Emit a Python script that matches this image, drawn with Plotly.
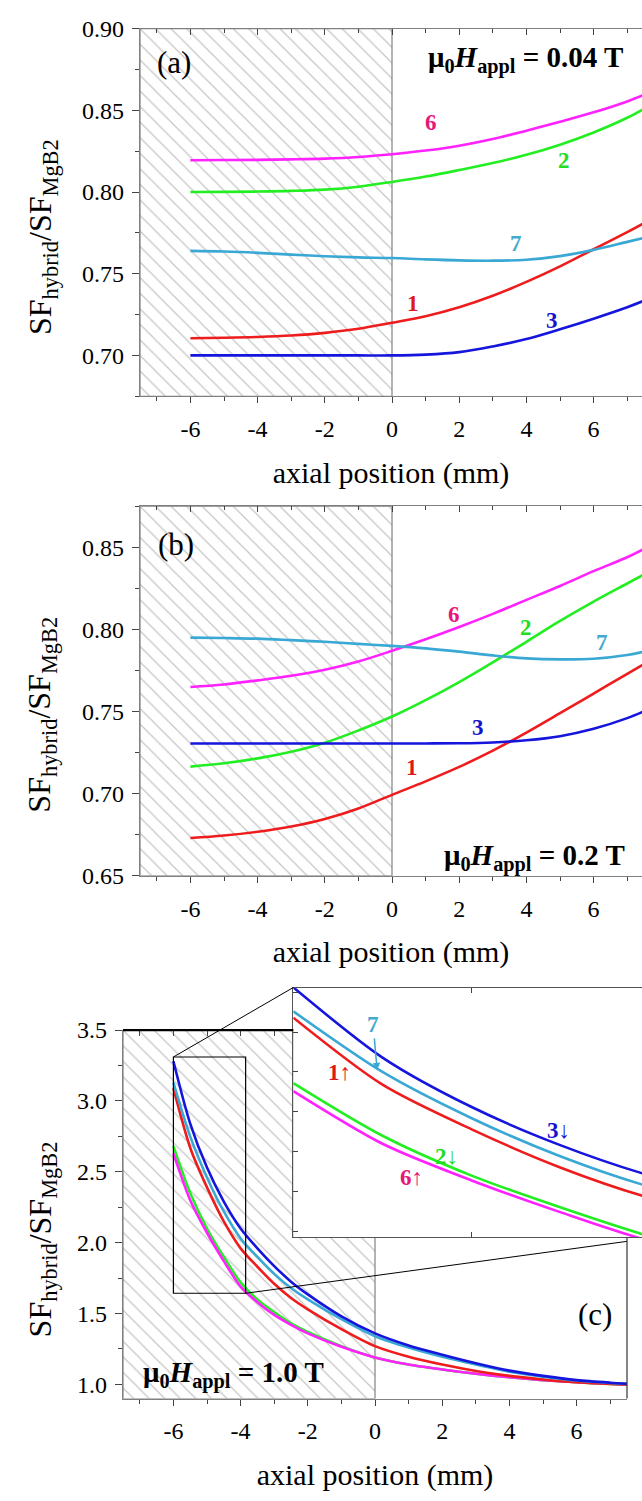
import plotly.graph_objects as go

W, H = 642, 1501
FONT = "Liberation Serif"
GRAY = "#808080"

# ---------------- data ----------------
X_AB = [-6, -5, -4, -3, -2, -1, 0, 1, 2, 3, 4, 5, 6, 7, 7.5]

A_1 = [0.7105, 0.7108, 0.7113, 0.7122, 0.7138, 0.7163, 0.7200, 0.7240, 0.7295, 0.7365, 0.7450, 0.7545, 0.7650, 0.7755, 0.7810]
A_2 = [0.8000, 0.8001, 0.8003, 0.8007, 0.8015, 0.8033, 0.8062, 0.8095, 0.8135, 0.8178, 0.8228, 0.8290, 0.8365, 0.8455, 0.8510]
A_3 = [0.7000, 0.7000, 0.7000, 0.7000, 0.7000, 0.7000, 0.7000, 0.7005, 0.7020, 0.7055, 0.7100, 0.7160, 0.7225, 0.7295, 0.7335]
A_6 = [0.8195, 0.8196, 0.8197, 0.8200, 0.8205, 0.8215, 0.8232, 0.8254, 0.8284, 0.8325, 0.8376, 0.8430, 0.8488, 0.8555, 0.8595]
A_7 = [0.7640, 0.7636, 0.7628, 0.7617, 0.7607, 0.7600, 0.7596, 0.7588, 0.7582, 0.7580, 0.7586, 0.7608, 0.7646, 0.7695, 0.7720]

B_1 = [0.6730, 0.6745, 0.6768, 0.6800, 0.6846, 0.6910, 0.6993, 0.7075, 0.7163, 0.7262, 0.7372, 0.7490, 0.7610, 0.7730, 0.7790]
B_2 = [0.7165, 0.7185, 0.7215, 0.7255, 0.7310, 0.7385, 0.7470, 0.7570, 0.7680, 0.7800, 0.7925, 0.8052, 0.8170, 0.8280, 0.8335]
B_3 = [0.7306, 0.7306, 0.7306, 0.7306, 0.7306, 0.7306, 0.7306, 0.7306, 0.7307, 0.7312, 0.7325, 0.7350, 0.7395, 0.7460, 0.7502]
B_6 = [0.7650, 0.7665, 0.7690, 0.7718, 0.7755, 0.7805, 0.7870, 0.7940, 0.8015, 0.8095, 0.8180, 0.8265, 0.8355, 0.8440, 0.8490]
B_7 = [0.7950, 0.7948, 0.7944, 0.7935, 0.7925, 0.7912, 0.7900, 0.7885, 0.7865, 0.7842, 0.7824, 0.7818, 0.7822, 0.7845, 0.7865]

X_C = [-6, -5.5, -5, -4.5, -4, -3.5, -3, -2.5, -2, -1, 0, 1, 2, 3, 4, 5, 6, 7, 7.5]
C_1 = [3.09, 2.67, 2.39, 2.15, 1.96, 1.83, 1.71, 1.61, 1.53, 1.39, 1.27, 1.195, 1.14, 1.095, 1.06, 1.035, 1.015, 1.003, 1.000]
C_2 = [2.68, 2.35, 2.10, 1.90, 1.72, 1.60, 1.51, 1.43, 1.37, 1.27, 1.19, 1.14, 1.105, 1.075, 1.05, 1.03, 1.015, 1.003, 0.998]
C_3 = [3.28, 2.84, 2.53, 2.29, 2.10, 1.96, 1.835, 1.725, 1.635, 1.48, 1.36, 1.275, 1.21, 1.15, 1.097, 1.06, 1.03, 1.012, 1.005]
C_6 = [2.63, 2.30, 2.07, 1.87, 1.69, 1.58, 1.49, 1.42, 1.36, 1.265, 1.19, 1.14, 1.105, 1.075, 1.05, 1.03, 1.015, 1.005, 1.000]
C_7 = [3.13, 2.75, 2.46, 2.22, 2.03, 1.90, 1.78, 1.68, 1.60, 1.46, 1.34, 1.26, 1.195, 1.14, 1.09, 1.055, 1.027, 1.010, 1.005]

SERIES = ["1", "2", "3", "6", "7"]
COLORS = {"1": "#ee1c1c", "2": "#22ee22", "3": "#1515dd", "6": "#ff22ff", "7": "#3aa8d4"}
LABEL_COLORS = {"1": "#e01818", "2": "#22dd22", "3": "#1515cc", "6": "#e8167a", "7": "#44aacc"}
DATA_A = {"1": A_1, "2": A_2, "3": A_3, "6": A_6, "7": A_7}
DATA_B = {"1": B_1, "2": B_2, "3": B_3, "6": B_6, "7": B_7}
DATA_C = {"1": C_1, "2": C_2, "3": C_3, "6": C_6, "7": C_7}

XTICKS = [-6, -4, -2, 0, 2, 4, 6]
XTICK_TEXT = ["-6", "-4", "-2", "0", "2", "4", "6"]
XMINOR = [-7, -5, -3, -1, 1, 3, 5, 7]
SHIELD_X = [-7.5, 0]          # shaded (shielded) region
ZOOM_X = [-6, -3.85]          # zoom window of panel (c)
ZOOM_Y = [1.643, 3.31]
Y_TITLE = "SF<sub>hybrid</sub>/SF<sub>MgB2</sub>"
X_TITLE = "axial position (mm)"

# ---------------- layout geometry ----------------
XR_AB = [-7.5, 7.44]
YR_A = [0.675, 0.90]
YR_B = [0.65, 0.875]
XR_C = [-7.5, 7.5]
YR_C = [0.9, 3.5]
XR_I = [-6, -4.045]
YR_I = [1.713, 3.279]

DOM_AB_X = [140 / W, 1.0]
DOM_A_Y = [1 - 390 / H, 1 - 16 / H]
DOM_B_Y = [1 - 878 / H, 1 - 502 / H]
DOM_C_X = [123 / W, 627 / W]
DOM_C_Y = [1 - 1410 / H, 1 - 1035 / H]
DOM_I_X = [293.3 / W, 1.0]
DOM_I_Y = [1 - 1246 / H, 1 - 991.7 / H]


def d2p(v, dom, rng):
    return dom[0] + (v - rng[0]) / (rng[1] - rng[0]) * (dom[1] - dom[0])


def p2d(p, dom, rng):
    return rng[0] + (p - dom[0]) / (dom[1] - dom[0]) * (rng[1] - rng[0])


fig = go.Figure()

PATTERN = dict(shape="\\", size=11, solidity=0.11, fgcolor="#8c8c8c", bgcolor="white")


def shade(xa, ya, xs, ys):
    fig.add_trace(go.Scatter(x=xs, y=ys, xaxis=xa, yaxis=ya, mode="lines", fill="toself",
                             fillpattern=PATTERN, fillcolor="white",
                             line=dict(color=GRAY, width=1.2), hoverinfo="skip", showlegend=False))


shade("x", "y", [SHIELD_X[0], SHIELD_X[1], SHIELD_X[1], SHIELD_X[0], SHIELD_X[0]],
      [YR_A[0], YR_A[0], YR_A[1], YR_A[1], YR_A[0]])
shade("x2", "y2", [SHIELD_X[0], SHIELD_X[1], SHIELD_X[1], SHIELD_X[0], SHIELD_X[0]],
      [YR_B[0], YR_B[0], YR_B[1], YR_B[1], YR_B[0]])
ins_left = p2d(DOM_I_X[0], DOM_C_X, XR_C)
ins_bot = p2d(DOM_I_Y[0], DOM_C_Y, YR_C)
shade("x3", "y3",
      [SHIELD_X[0], SHIELD_X[1], SHIELD_X[1], ins_left, ins_left, SHIELD_X[0], SHIELD_X[0]],
      [YR_C[0], YR_C[0], ins_bot, ins_bot, YR_C[1], YR_C[1], YR_C[0]])

LW = 2.6
for s in SERIES:
    fig.add_trace(go.Scatter(x=X_AB, y=DATA_A[s], xaxis="x", yaxis="y", mode="lines",
                             line=dict(color=COLORS[s], width=LW, shape="spline", smoothing=1.0),
                             showlegend=False, name=s))
for s in SERIES:
    fig.add_trace(go.Scatter(x=X_AB, y=DATA_B[s], xaxis="x2", yaxis="y2", mode="lines",
                             line=dict(color=COLORS[s], width=LW, shape="spline", smoothing=1.0),
                             showlegend=False, name=s))
for s in ["2", "6", "1", "7", "3"]:
    fig.add_trace(go.Scatter(x=X_C, y=DATA_C[s], xaxis="x3", yaxis="y3", mode="lines",
                             line=dict(color=COLORS[s], width=LW, shape="spline", smoothing=0.8),
                             showlegend=False, name=s))
for s in ["2", "6", "1", "7", "3"]:
    fig.add_trace(go.Scatter(x=X_C, y=DATA_C[s], xaxis="x4", yaxis="y4", mode="lines",
                             line=dict(color=COLORS[s], width=LW, shape="spline", smoothing=0.8),
                             showlegend=False, name=s))
for xa, ya in [("x5", "y"), ("x6", "y2"), ("x7", "y3")]:
    fig.add_trace(go.Scatter(x=[None], y=[None], xaxis=xa, yaxis=ya, mode="lines",
                             showlegend=False, hoverinfo="skip"))

TICKFONT = dict(family=FONT, size=24, color="black")
XTITLE = dict(text=X_TITLE, font=dict(family=FONT, size=30, color="black"), standoff=20)


def xaxis(dom, rng, anchor):
    return dict(domain=dom, range=rng, anchor=anchor, showline=True, linecolor=GRAY, linewidth=1.2,
                ticks="outside", ticklen=6, tickwidth=1.2, tickcolor="#444",
                tickmode="array", tickvals=XTICKS, ticktext=XTICK_TEXT,
                minor=dict(tickmode="array", tickvals=XMINOR, ticks="outside", ticklen=4,
                           tickwidth=1, tickcolor="#444"),
                showgrid=False, zeroline=False, tickfont=TICKFONT, ticklabelstandoff=5,
                title=XTITLE)


def yaxis(dom, rng, anchor, dt, t0, fmt):
    return dict(domain=dom, range=rng, anchor=anchor, showline=True, linecolor=GRAY, linewidth=1.2,
                ticks="outside", ticklen=7, tickwidth=1.2, tickcolor="#444",
                dtick=dt, tick0=t0, tickformat=fmt,
                minor=dict(dtick=dt / 2, tick0=t0, ticks="outside", ticklen=4, tickwidth=1,
                           tickcolor="#444"),
                showgrid=False, zeroline=False, tickfont=TICKFONT, ticklabelstandoff=3)


def topaxis(over, anchor, rng, vals, minor_vals, line):
    d = dict(overlaying=over, anchor=anchor, side="top", range=rng, showline=line, linecolor=GRAY,
             linewidth=1.2, ticks="inside", ticklen=6, tickwidth=1.2, tickcolor="#444",
             tickmode="array", tickvals=vals, showticklabels=False, showgrid=False, zeroline=False)
    if minor_vals:
        d["minor"] = dict(tickmode="array", tickvals=minor_vals, ticks="inside", ticklen=4,
                          tickwidth=1, tickcolor="#444")
    return d


fig.update_layout(
    width=W, height=H, margin=dict(l=0, r=0, t=0, b=0),
    paper_bgcolor="white", plot_bgcolor="white", showlegend=False,
    font=dict(family=FONT, color="black"),
    xaxis=xaxis(DOM_AB_X, XR_AB, "y"),
    yaxis=yaxis(DOM_A_Y, YR_A, "x", 0.05, 0.70, ".2f"),
    xaxis2=xaxis(DOM_AB_X, XR_AB, "y2"),
    yaxis2=yaxis(DOM_B_Y, YR_B, "x2", 0.05, 0.70, ".2f"),
    xaxis3=xaxis(DOM_C_X, XR_C, "y3"),
    yaxis3=yaxis(DOM_C_Y, YR_C, "x3", 0.5, 1.0, ".1f"),
    xaxis4=dict(domain=DOM_I_X, range=XR_I, anchor="y4", showline=True, mirror="ticks",
                linecolor="#555", linewidth=1.2, ticks="inside", ticklen=5, tickcolor="#444",
                tickmode="array", tickvals=[-5], showticklabels=False, showgrid=False, zeroline=False),
    yaxis4=dict(domain=DOM_I_Y, range=YR_I, anchor="x4", showline=True, linecolor="#555",
                linewidth=1.2, ticks="inside", ticklen=5, tickcolor="#444", dtick=0.25, tick0=1.75,
                showticklabels=False, showgrid=False, zeroline=False),
    xaxis5=topaxis("x", "y", XR_AB, XTICKS, XMINOR, True),
    xaxis6=topaxis("x2", "y2", XR_AB, XTICKS, XMINOR, True),
    xaxis7=topaxis("x3", "y3", XR_C, [-7, -6, -5, -4, -3], None, False),
)

# ---------------- shapes ----------------
shapes = []
shapes.append(dict(type="rect", xref="x3", yref="y3", x0=ZOOM_X[0], x1=ZOOM_X[1], y0=ZOOM_Y[0],
                   y1=ZOOM_Y[1], line=dict(color="black", width=1.2)))
shapes.append(dict(type="line", xref="paper", yref="paper",
                   x0=d2p(ZOOM_X[0], DOM_C_X, XR_C), y0=d2p(ZOOM_Y[1], DOM_C_Y, YR_C),
                   x1=DOM_I_X[0], y1=DOM_I_Y[1], line=dict(color="black", width=1)))
shapes.append(dict(type="line", xref="paper", yref="paper",
                   x0=d2p(ZOOM_X[1], DOM_C_X, XR_C), y0=d2p(ZOOM_Y[0], DOM_C_Y, YR_C),
                   x1=DOM_C_X[1], y1=1 - 1250 / H, line=dict(color="black", width=1)))
shapes.append(dict(type="line", xref="paper", yref="paper", x0=DOM_C_X[0], x1=DOM_I_X[0],
                   y0=DOM_C_Y[1], y1=DOM_C_Y[1], line=dict(color="black", width=2.2)))
shapes.append(dict(type="line", xref="paper", yref="paper", x0=DOM_C_X[1], x1=DOM_C_X[1],
                   y0=DOM_C_Y[0], y1=DOM_I_Y[0], line=dict(color="#333", width=1.2)))
fig.update_layout(shapes=shapes)

# ---------------- annotations ----------------
ann = []


def txt(x, y, xr, yr, t, size, color="black", xanchor="center", angle=0):
    ann.append(dict(x=x, y=y, xref=xr, yref=yr, text=t, showarrow=False, xanchor=xanchor,
                    yanchor="middle", textangle=angle, font=dict(family=FONT, size=size, color=color)))


for ycen in [228, 714, 1248]:
    txt(42 / W, 1 - ycen / H, "paper", "paper", Y_TITLE, 32, angle=-90)

txt(-6.5, 0.8796, "x", "y", "(a)", 31)
txt(3.96, 0.8814, "x", "y", "<b>μ<sub>0</sub><i>H</i><sub>appl</sub> = 0.04 T</b>", 29)
for s, (lx, ly) in {"6": (1.15, 0.8426), "2": (5.12, 0.8196), "7": (3.68, 0.7686),
                    "1": (0.61, 0.7316), "3": (4.77, 0.7216)}.items():
    txt(lx, ly, "x", "y", "<b>%s</b>" % s, 23, LABEL_COLORS[s])

txt(-6.44, 0.852, "x2", "y2", "(b)", 31)
txt(4.23, 0.6612, "x2", "y2", "<b>μ<sub>0</sub><i>H</i><sub>appl</sub> = 0.2 T</b>", 29)
for s, (lx, ly) in {"6": (1.85, 0.809), "2": (3.98, 0.801), "7": (6.26, 0.792),
                    "3": (2.57, 0.740), "1": (0.60, 0.716)}.items():
    txt(lx, ly, "x2", "y2", "<b>%s</b>" % s, 23, LABEL_COLORS[s])

txt(-4.2, 1.07, "x3", "y3", "<b>μ<sub>0</sub><i>H</i><sub>appl</sub> = 1.0 T</b>", 29)
txt(6.55, 1.49, "x3", "y3", "(c)", 31)

for s, (lx, ly, t) in {"1": (-5.74, 2.746, "1↑"), "3": (-4.515, 2.386, "3↓"),
                       "2": (-5.14, 2.222, "2↓"), "6": (-5.336, 2.089, "6↑")}.items():
    txt(lx, ly, "x4", "y4", "<b>%s</b>" % t, 23, LABEL_COLORS[s])
ann.append(dict(x=-5.53, y=2.76, xref="x4", yref="y4", text="<b>7</b>", showarrow=True,
                arrowhead=2, arrowsize=1, arrowwidth=1.5, arrowcolor=COLORS["7"], ax=-4, ay=-46,
                font=dict(family=FONT, size=23, color=LABEL_COLORS["7"])))
fig.update_layout(annotations=ann)

fig.write_html("out.html")
